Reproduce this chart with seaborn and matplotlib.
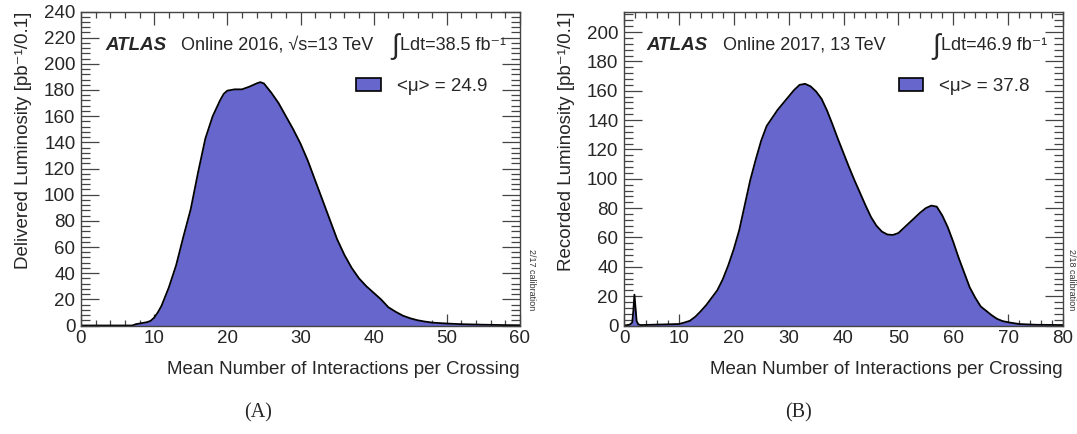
import matplotlib
matplotlib.use("Agg")
import matplotlib.pyplot as plt
import seaborn as sns
import pandas as pd
from matplotlib.patches import Patch
from matplotlib.ticker import MultipleLocator

# 2016: delivered luminosity per 0.1 bin of <mu>
mu_2016 = [0, 5, 7, 7.5, 8, 9, 9.5, 10, 10.5, 11, 12, 13, 14, 15, 16, 17, 18, 19,
           19.5, 20, 21, 22, 23, 24, 24.5, 25, 26, 27, 28, 29, 30, 31, 32, 33, 34,
           35, 36, 37, 38, 39, 40, 41, 42, 43, 44, 45, 46, 47, 48, 50, 52, 55, 58,
           60]
lumi_2016 = [0, 0, 0, 1, 1.5, 2.5, 3.5, 6, 10, 15, 29, 46, 68, 89, 117, 143, 160,
             172, 177, 179.5, 180.5, 180.5, 182.5, 185, 186, 185, 178, 170, 160,
             150, 139, 126, 111, 96, 81, 66, 54, 44, 36, 30, 25, 20, 14, 10.5, 7.5,
             5.5, 4, 3, 2.2, 1.5, 1.0, 0.6, 0.3, 0.2]

# 2017: recorded luminosity per 0.1 bin of <mu>
mu_2017 = [0, 1, 1.5, 1.7, 1.9, 2.1, 2.3, 2.6, 3, 10, 11, 12, 13, 14, 15, 16, 17,
           18, 19, 20, 21, 22, 23, 24, 25, 26, 27, 28, 29, 30, 31, 32, 33, 34, 35,
           36, 37, 38, 39, 40, 41, 42, 43, 44, 45, 46, 47, 48, 49, 50, 51, 52, 53,
           54, 55, 56, 57, 58, 59, 60, 61, 62, 63, 64, 65, 66, 67, 68, 69, 70, 72,
           75, 80]
lumi_2017 = [0, 0.5, 2, 10, 21, 12, 3, 0.8, 0.3, 1, 2, 3.2, 6, 9.8, 14, 19, 24,
             31.5, 41, 52, 65, 82, 99, 113, 126, 136, 141.5, 147, 151.5, 156, 160.5,
             164, 164.7, 163, 159.5, 154.5, 146.5, 137, 127, 117.5, 108, 99, 90.5,
             82, 74, 68, 64, 62, 61.7, 63, 66.5, 70, 73.5, 77, 80, 81.7, 81, 75,
             67, 57, 46, 36, 26, 19, 13, 10, 7, 4.5, 3, 2.2, 1, 0.5, 0.3]

mean_mu = [24.9, 37.8]
energy_text = ["Online 2016, \u221as=13 TeV", "Online 2017, 13 TeV"]
int_lumi = ["38.5", "46.9"]
y_labels = ["Delivered Luminosity [pb\u207b\u00b9/0.1]",
            "Recorded Luminosity [pb\u207b\u00b9/0.1]"]
calib = ["2/17 calibration", "2/18 calibration"]
captions = ["(A)", "(B)"]
x_max = [60, 80]
y_max = [240, 214]

sns.set_theme(style="white")
plt.rcParams["font.family"] = ["Liberation Sans", "DejaVu Sans"]

fill_color = "#6666cc"
frame_color = "#444444"
W, H = 1077, 434

fig = plt.figure(figsize=(W / 100, H / 100), dpi=100)
axes_rects = [[81 / W, 108.5 / H, 439 / W, 314 / H],
              [624 / W, 108.5 / H, 439 / W, 314 / H]]
data = [(mu_2016, lumi_2016), (mu_2017, lumi_2017)]
# header x positions (pixels): ATLAS, run text, integral sign, Ldt text
text_x = [(105, 181, 391, 400), (646, 723, 932, 941)]
legend_anchor = [(0.627, 0.762), (0.626, 0.762)]
calib_x = [1.027, 1.020]
caption_x = [258, 798]

for i, rect in enumerate(axes_rects):
    ax = fig.add_axes(rect)
    mu, lumi = data[i]
    df = pd.DataFrame({"mu": mu, "lumi": lumi})
    ax.fill_between(df["mu"], 0, df["lumi"], color=fill_color, linewidth=0)
    sns.lineplot(data=df, x="mu", y="lumi", ax=ax, color="black",
                 linewidth=1.3, sort=False, estimator=None)
    ax.set_xlim(0, x_max[i])
    ax.set_ylim(0, y_max[i])

    for s in ax.spines.values():
        s.set_color(frame_color)
        s.set_linewidth(1.0)
    ax.xaxis.set_major_locator(MultipleLocator(10))
    ax.xaxis.set_minor_locator(MultipleLocator(2))
    ax.yaxis.set_major_locator(MultipleLocator(20))
    ax.yaxis.set_minor_locator(MultipleLocator(4))
    ax.tick_params(axis="both", which="both", direction="in", top=True,
                   right=True, bottom=True, left=True, color=frame_color,
                   labelsize=13.5, width=0.9)
    ax.tick_params(axis="x", which="major", length=9, pad=3)
    ax.tick_params(axis="x", which="minor", length=4.5)
    ax.tick_params(axis="y", which="major", length=13, pad=4)
    ax.tick_params(axis="y", which="minor", length=6.5)

    ax.set_xlabel("Mean Number of Interactions per Crossing", fontsize=13.5,
                  loc="right", labelpad=10)
    ax.set_ylabel(y_labels[i], fontsize=13.5, loc="top", labelpad=8.5)

    # header: experiment, run conditions, integrated luminosity
    tx = text_x[i]
    y_head = 1 - 45 / H
    fig.text(tx[0] / W, y_head, "ATLAS", fontsize=13.5,
             fontweight="bold", fontstyle="italic", va="center")
    fig.text(tx[1] / W, y_head, energy_text[i], fontsize=13, va="center")
    fig.text(tx[2] / W, 1 - 47 / H, "\u222b", fontsize=20, va="center")
    fig.text(tx[3] / W, y_head,
             "Ldt=" + int_lumi[i] + " fb\u207b\u00b9", fontsize=13, va="center")

    handle = Patch(facecolor=fill_color, edgecolor="black", linewidth=1.2)
    ax.legend([handle], ["<\u03bc> = " + f"{mean_mu[i]}"], loc="center left",
              bbox_to_anchor=legend_anchor[i], frameon=False, fontsize=13.5,
              handlelength=1.3, handleheight=0.75, handletextpad=0.85,
              borderpad=0, borderaxespad=0)

    ax.text(calib_x[i], 0.147, calib[i], transform=ax.transAxes, rotation=-90,
            fontsize=6.5, va="center", ha="center", color="#333333")

    fig.text(caption_x[i] / W, 1 - 413 / H, captions[i],
             fontsize=14.5, family=["Liberation Serif", "DejaVu Serif"],
             ha="center", va="center")

fig.savefig("out.png", dpi=100)
